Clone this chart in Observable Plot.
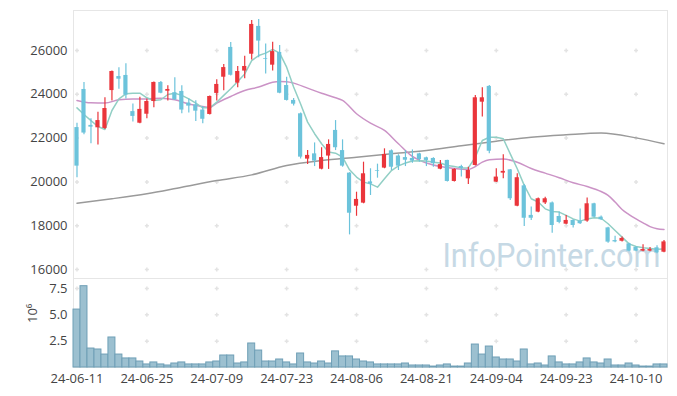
<!DOCTYPE html>
<html><head><meta charset="utf-8">
<script src="https://cdn.jsdelivr.net/npm/d3@7"></script>
<script src="https://cdn.jsdelivr.net/npm/@observablehq/plot@0.6"></script>
<style>
html,body{margin:0;padding:0;background:#fff;}
#chart svg{display:block;}
</style></head><body><div id="chart"></div>
<script>
const dates = [
"2024-06-11","2024-06-12","2024-06-13","2024-06-14","2024-06-17","2024-06-18","2024-06-19","2024-06-20","2024-06-21","2024-06-24",
"2024-06-25","2024-06-26","2024-06-27","2024-06-28","2024-07-01","2024-07-02","2024-07-03","2024-07-04","2024-07-05","2024-07-08",
"2024-07-09","2024-07-10","2024-07-11","2024-07-12","2024-07-15","2024-07-16","2024-07-17","2024-07-18","2024-07-19","2024-07-22",
"2024-07-23","2024-07-24","2024-07-25","2024-07-26","2024-07-29","2024-07-30","2024-07-31","2024-08-01","2024-08-02","2024-08-05",
"2024-08-06","2024-08-07","2024-08-08","2024-08-09","2024-08-12","2024-08-13","2024-08-14","2024-08-16","2024-08-19","2024-08-20",
"2024-08-21","2024-08-22","2024-08-23","2024-08-26","2024-08-27","2024-08-28","2024-08-29","2024-08-30","2024-09-02","2024-09-03",
"2024-09-04","2024-09-05","2024-09-06","2024-09-09","2024-09-10","2024-09-11","2024-09-12","2024-09-13","2024-09-19","2024-09-20",
"2024-09-23","2024-09-24","2024-09-25","2024-09-26","2024-09-27","2024-09-30","2024-10-02","2024-10-04","2024-10-07","2024-10-08",
"2024-10-10","2024-10-11","2024-10-14","2024-10-15","2024-10-16"];

const open = [22480,24220,22580,22470,22440,24170,24810,24860,23210,22680,
23090,23670,24540,24140,24070,24130,23600,23520,23280,23080,
24040,24780,26140,24510,25060,25830,27100,25630,25330,25910,
24400,23720,23110,21040,21280,20580,21180,22350,21430,20400,
18890,19030,20000,20520,20630,21420,21180,21110,21070,21280,
21100,21070,20580,20980,20020,20700,20140,20750,23640,24360,
19990,20400,20550,18890,19820,18470,18620,19040,19040,18420,
18070,18240,18210,18210,19000,18390,17900,17320,17290,17170,
17010,16840,16840,16990,16790];
const high = [22680,24540,22880,23180,23840,25060,25210,25390,23560,23870,
23790,24560,24580,24390,24750,24390,23790,23700,23440,23920,
24660,25360,26370,25270,25740,27370,27420,26300,26380,26230,
24780,23810,23150,21430,21780,21560,21920,22800,21920,20420,
19530,20900,20600,20810,21510,21460,21240,21430,21460,21310,
21130,21100,20980,20990,20600,20760,20670,23950,24300,24400,
20600,21240,20570,20370,19880,18850,19270,19300,19080,18620,
18470,18270,18760,19260,19030,18440,17930,17520,17480,17200,
17040,17130,17010,17080,17320];
const low = [20190,22150,21740,21690,22390,23690,24230,23790,22730,22660,
22880,23380,24020,23690,23720,23110,23150,22760,22650,23050,
23690,24160,24830,24300,24710,25570,25670,24930,25060,24030,
23690,23460,21050,20790,20700,20550,20570,21430,20670,17580,
18430,19000,19380,20170,20600,20520,20520,20700,20850,20900,
20700,20670,20550,19990,19990,20220,19880,20730,22960,21280,
19970,20140,19150,18870,17960,18240,18590,18970,17660,18090,
18040,17900,18060,18160,18360,18240,17200,17220,17260,16810,
16810,16810,16810,16720,16760];
const close = [20720,22230,22500,22800,23350,25040,24690,23960,22990,23310,
23670,24540,24050,24220,23750,23280,23460,23230,22860,23900,
24450,25220,24870,25040,25270,27190,26430,25600,25950,24050,
23720,23550,21130,21210,20950,21110,21710,21560,20720,18570,
19200,20370,19900,20490,21250,20670,20720,20990,20950,21020,
20980,20830,20790,20020,20570,20610,20520,23840,23840,21400,
20220,20480,19230,20190,18340,18340,19230,19230,18010,18150,
18240,18010,18090,19000,18390,18270,17250,17260,17420,16840,
16840,16910,16910,16760,17260];

// trading volume, millions of shares
const volumeMillions = [5.50,7.72,1.80,1.71,1.23,2.85,1.23,0.86,0.86,0.57,
0.29,0.48,0.29,0.19,0.38,0.48,0.29,0.29,0.29,0.48,
0.57,1.14,1.14,0.38,0.48,2.28,1.61,0.57,0.57,0.76,
0.48,0.29,1.33,0.48,0.38,0.57,0.38,1.53,1.05,1.05,
0.76,0.57,0.48,0.29,0.29,0.29,0.29,0.38,0.19,0.19,
0.19,0.09,0.19,0.29,0.09,0.09,0.38,2.18,1.23,1.99,
0.95,0.76,0.76,0.57,1.71,0.29,0.38,0.19,1.05,0.48,
0.29,0.29,0.48,0.86,0.48,0.38,0.76,0.19,0.19,0.38,
0.19,0.09,0.09,0.29,0.29];

// 5-day moving average (read per bar)
const ma5 = [23380,23080,22800,22530,22390,23260,23790,24020,24050,24050,
23840,23720,23750,23990,24050,23950,23790,23600,23380,23380,
23640,23950,24250,24580,24930,25540,25770,25880,26050,25880,
25240,24330,23560,22730,22200,21740,21360,21310,21130,20550,
20220,19990,19910,19760,20140,20520,20730,20860,20950,20960,
20950,20900,20860,20750,20700,20640,20640,21130,21890,22040,
22040,21970,21280,20600,19840,19230,19080,18770,18650,18620,
18470,18310,18210,18310,18360,18340,18090,17780,17480,17170,
17050,16990,16960,16930,16940];

// 20-day moving average, read at these bars
const ma20Bar = [0,2,4,6,8,10,12,14,16,18,19,20,22,24,26,28,29,30,31,33,35,37,38,40,42,44,46,48,50,52,54,56,57,58,59,61,63,65,67,69,71,73,75,76,77,78,79,80,81,82,83,84];
const ma20Value = [23720,23610,23600,23750,23790,23790,23820,23750,23560,23440,23410,23600,23900,24170,24330,24550,24580,24570,24510,24280,24050,23840,23720,23110,22680,22350,21740,21160,20860,20700,20610,20570,20700,20900,21010,21040,20900,20610,20400,20190,19960,19790,19560,19380,19080,18740,18510,18310,18130,17960,17860,17830];

// long moving average, read at these bars
const maLongBar = [0,5,10,15,20,25,30,35,40,45,50,55,60,65,70,75,80,84];
const maLongValue = [19030,19230,19460,19760,20060,20320,20750,20980,21130,21280,21430,21650,21860,22040,22150,22230,22010,21740];

const xTickDates = ["2024-06-11","2024-06-25","2024-07-09","2024-07-23","2024-08-06","2024-08-21","2024-09-04","2024-09-23","2024-10-10"];
const priceTicks = [16000,18000,20000,22000,24000,26000];
const volumeTicks = [2.5,5,7.5];

const candles = dates.map((d,i)=>({date:d, open:open[i], high:high[i], low:low[i], close:close[i], volume:volumeMillions[i], ma5:ma5[i], up: close[i] >= open[i]}));
const ma20 = ma20Bar.map((k,i)=>({date:dates[k], value:ma20Value[i]}));
const maLong = maLongBar.map((k,i)=>({date:dates[k], value:maLongValue[i]}));
const priceCrosses = xTickDates.flatMap(x=>priceTicks.map(y=>({x,y})));
const volCrosses = xTickDates.flatMap(x=>volumeTicks.map(y=>({x,y})));

const upColor = "#ea353b", downColor = "#6cc3db";
const crossSymbol = {draw(ctx,size){const r=Math.sqrt(size/Math.PI); ctx.moveTo(-r,0);ctx.lineTo(r,0);ctx.moveTo(0,-r);ctx.lineTo(0,r);}};

const common = {width:677, marginLeft:73, marginRight:10,
  style:{fontFamily:"'Open Sans', sans-serif", fontSize:"13px", color:"#444", background:"#fff"}};

const price = Plot.plot({
  ...common, height:278, marginTop:10, marginBottom:0,
  x:{type:"band", domain:dates, padding:0, axis:null},
  y:{domain:[15589,27826], ticks:priceTicks, tickFormat:d=>String(d), tickSize:0, tickPadding:6, label:null},
  marks:[
    Plot.frame({stroke:"#e6e6e6"}),
    Plot.text(["InfoPointer.com"], {frameAnchor:"bottom-right", dx:-7, dy:-22, textAnchor:"end", lineAnchor:"middle", fontSize:33, fontWeight:400, fontFamily:"Roboto", fill:"#c6d9e5"}),
    Plot.dot(priceCrosses, {x:"x", y:"y", symbol:crossSymbol, r:2, stroke:"#e3e3e3", fill:"none"}),
    Plot.line(maLong, {x:"date", y:"value", stroke:"#9a9a9a", strokeWidth:1.5, curve:"monotone-x"}),
    Plot.line(ma20, {x:"date", y:"value", stroke:"#cb93c6", strokeWidth:1.5, curve:"monotone-x"}),
    Plot.line(candles, {x:"date", y:"ma5", stroke:"#92cfc5", strokeWidth:1.5}),
    Plot.ruleX(candles, {x:"date", y1:"low", y2:"high", stroke:d=>d.up?upColor:downColor, strokeWidth:1.2}),
    Plot.barY(candles, {x:"date", y1:"open", y2:"close", fill:d=>d.up?upColor:downColor, insetLeft:1.4, insetRight:1.4})
  ]
});

const vol = Plot.plot({
  ...common, height:118, marginTop:0, marginBottom:29,
  x:{type:"band", domain:dates, padding:0, ticks:xTickDates, tickFormat:d=>d.slice(2), tickSize:0, tickPadding:6, label:null},
  y:{domain:[0,8.45], ticks:volumeTicks, tickFormat:d=>d.toFixed(1), tickSize:0, tickPadding:6, label:null},
  marks:[
    Plot.frame({stroke:"#e6e6e6"}),
    Plot.dot(volCrosses, {x:"x", y:"y", symbol:crossSymbol, r:2, stroke:"#e3e3e3", fill:"none"}),
    Plot.barY(candles, {x:"date", y:"volume", fill:"#9cc0d0", stroke:"#6f9fb6", strokeWidth:1}),
    Plot.text(["10⁶"], {frameAnchor:"left", dx:-41, rotate:-90, fontSize:13, fill:"#444"})
  ]
});

const el = document.getElementById("chart");
el.append(price, vol);
price.querySelectorAll("text").forEach(t=>{ if (t.textContent === "InfoPointer.com") { t.setAttribute("textLength","218"); t.setAttribute("lengthAdjust","spacingAndGlyphs"); }});
</script></body></html>
